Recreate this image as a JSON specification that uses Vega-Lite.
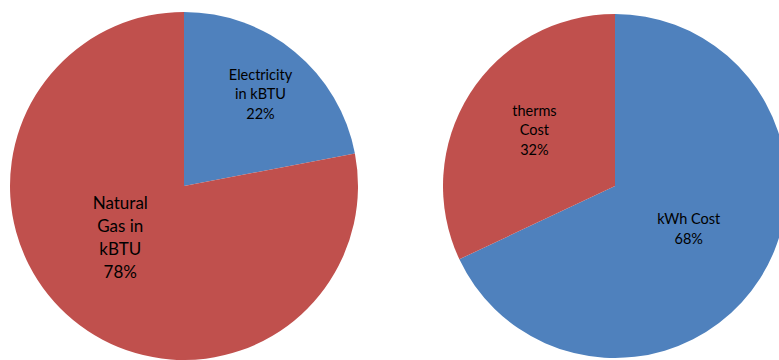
{
  "$schema": "https://vega.github.io/schema/vega-lite/v6.json",
  "autosize": {"type": "fit", "contains": "padding"},
  "width": 779,
  "height": 360,
  "padding": {"left": 0, "right": 0, "top": 12, "bottom": 0},
  "background": "white",
  "config": {"view": {"stroke": null}},
  "data": {
    "values": [
      {"chart": "Energy", "energy": "Electricity", "category": "Electricity in kBTU", "pct": 22, "label": "Electricity\nin kBTU\n22%"},
      {"chart": "Energy", "energy": "Natural Gas", "category": "Natural Gas in kBTU", "pct": 78, "label": "Natural\nGas in\nkBTU\n78%"},
      {"chart": "Cost", "energy": "Electricity", "category": "kWh Cost", "pct": 68, "label": "kWh Cost\n68%"},
      {"chart": "Cost", "energy": "Natural Gas", "category": "therms Cost", "pct": 32, "label": "therms\nCost\n32%"}
    ]
  },
  "encoding": {
    "x": {"field": "chart", "type": "nominal", "axis": null,
          "scale": {"type": "point", "domain": ["Energy", "Cost"], "padding": 0.40371, "align": 0.52874}},
    "theta": {"field": "pct", "type": "quantitative", "stack": true},
    "order": {"field": "energy", "type": "ordinal", "sort": "ascending"}
  },
  "layer": [
    {
      "transform": [{"filter": "datum.chart === 'Energy'"}],
      "mark": {"type": "arc", "outerRadius": 174, "clip": true},
      "encoding": {"color": {"field": "energy", "type": "nominal", "legend": null,
        "scale": {"domain": ["Electricity", "Natural Gas"], "range": ["#4F81BD", "#C0504D"]}}}
    },
    {
      "transform": [{"filter": "datum.chart === 'Cost'"}],
      "mark": {"type": "arc", "outerRadius": 172, "clip": true},
      "encoding": {"color": {"field": "energy", "type": "nominal", "legend": null,
        "scale": {"domain": ["Electricity", "Natural Gas"], "range": ["#4F81BD", "#C0504D"]}}}
    },
    {
      "transform": [{"filter": "datum.chart === 'Energy'"}],
      "mark": {"type": "text", "radius": 120, "dy": -18, "font": "Lato", "fontSize": 14.5, "lineHeight": 19.5, "lineBreak": "\n", "color": "black", "baseline": "middle", "align": "center"},
      "encoding": {"detail": {"field": "energy", "type": "nominal"},
        "text": {"condition": {"test": "datum.energy === 'Electricity'", "field": "label", "type": "nominal"}, "value": ""}}
    },
    {
      "transform": [{"filter": "datum.chart === 'Energy'"}],
      "mark": {"type": "text", "radius": 78, "dx": -14, "dy": -42, "font": "Lato", "fontSize": 17, "lineHeight": 23, "lineBreak": "\n", "color": "black", "baseline": "middle", "align": "center"},
      "encoding": {"detail": {"field": "energy", "type": "nominal"},
        "text": {"condition": {"test": "datum.energy === 'Natural Gas'", "field": "label", "type": "nominal"}, "value": ""}}
    },
    {
      "transform": [{"filter": "datum.chart === 'Cost'"}],
      "mark": {"type": "text", "radius": 85, "dx": 2, "dy": -12, "font": "Lato", "fontSize": 14.5, "lineHeight": 20, "lineBreak": "\n", "color": "black", "baseline": "middle", "align": "center"},
      "encoding": {"detail": {"field": "energy", "type": "nominal"},
        "text": {"condition": {"test": "datum.energy === 'Electricity'", "field": "label", "type": "nominal"}, "value": ""}}
    },
    {
      "transform": [{"filter": "datum.chart === 'Cost'"}],
      "mark": {"type": "text", "radius": 99, "dx": 3, "dy": -21, "font": "Lato", "fontSize": 14.5, "lineHeight": 19.5, "lineBreak": "\n", "color": "black", "baseline": "middle", "align": "center"},
      "encoding": {"detail": {"field": "energy", "type": "nominal"},
        "text": {"condition": {"test": "datum.energy === 'Natural Gas'", "field": "label", "type": "nominal"}, "value": ""}}
    }
  ]
}
